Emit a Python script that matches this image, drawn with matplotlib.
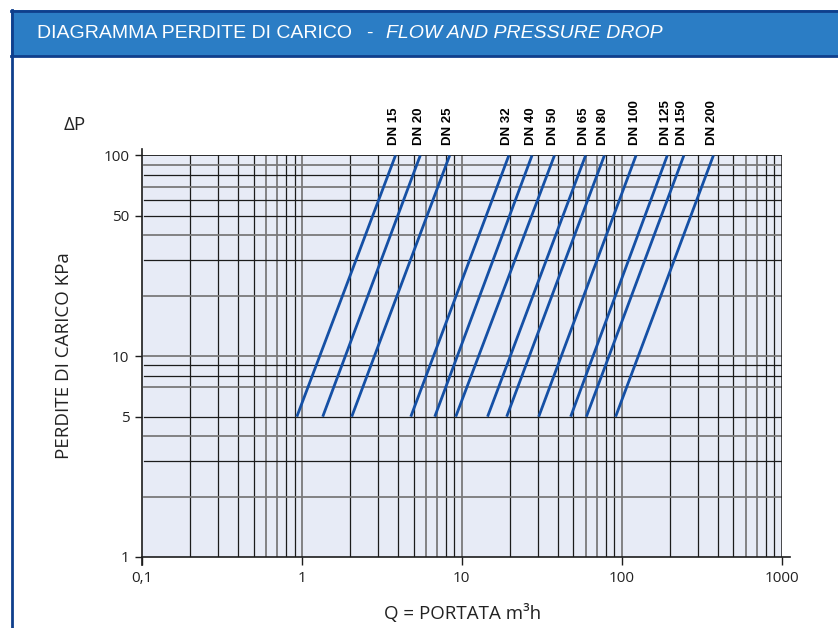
import matplotlib
matplotlib.use('Agg')
import matplotlib.pyplot as plt
from matplotlib.patches import Rectangle
from matplotlib.lines import Line2D
from matplotlib.ticker import NullLocator

# valve sizes and flow (m3/h) at dP = 5 kPa and dP = 100 kPa
dn_labels = ['DN 15', 'DN 20', 'DN 25', 'DN 32', 'DN 40', 'DN 50',
             'DN 65', 'DN 80', 'DN 100', 'DN 125', 'DN 150', 'DN 200']
q_low = [0.93, 1.35, 2.05, 4.80, 6.78, 9.17, 14.5, 19.1, 30.3, 48.0, 60.2, 91.7]
q_high = [3.85, 5.5, 8.4, 19.7, 27.5, 38.0, 59.5, 78.0, 123, 193, 245, 375]
dp_low = 5
dp_high = 100

x_ticks = [0.1, 1, 10, 100, 1000]
x_ticklabels = ['0,1', '1', '10', '100', '1000']
y_ticks = [1, 5, 10, 50, 100]
y_ticklabels = ['1', '5', '10', '50', '100']

# grid lines (dark / grey as in the printed chart)
x_grid_dark = [0.2, 0.3, 0.4, 0.5, 0.8, 0.9, 2, 3, 4, 5, 8, 9,
               20, 30, 40, 50, 80, 90, 200, 300, 400, 500, 800, 900]
x_grid_grey = [0.6, 0.7, 1, 6, 7, 10, 60, 70, 100, 600, 700]
y_grid_dark = [3, 5, 8, 9, 30, 50, 60, 80]
y_grid_grey = [2, 4, 7, 10, 20, 40, 70, 90]

W, H = 838, 628
fig = plt.figure(figsize=(W / 100, H / 100), dpi=100)

txt = '#222222'
navy = '#0f3f8c'
sans = ['Open Sans', 'DejaVu Sans']

# header bar
fig.patches.append(Rectangle((11 / W, 1 - 57 / H), (W - 11) / W, 47 / H,
                             transform=fig.transFigure, facecolor='#2b7dc5',
                             edgecolor='none', zorder=0))
for yy in (11, 56):
    fig.add_artist(Line2D([11 / W, 1], [1 - yy / H] * 2, color=navy, lw=2.0))
fig.add_artist(Line2D([12 / W] * 2, [0, 1 - 10 / H], color=navy, lw=2.0))

title_font = ['Liberation Sans', 'DejaVu Sans']
t1 = fig.text(37 / W, 1 - 33 / H, 'DIAGRAMMA PERDITE DI CARICO', color='white',
              fontsize=14, family=title_font, va='center', ha='left')
fig.canvas.draw()
x_end = t1.get_window_extent().x1
fig.text((x_end + 14) / W, 1 - 33 / H, '-', color='white',
         fontsize=14, family=title_font, va='center', ha='left')
fig.text((x_end + 34) / W, 1 - 33 / H, 'FLOW AND PRESSURE DROP', color='white',
         fontsize=14, family=title_font, style='italic', va='center', ha='left')

# plot area
ax = fig.add_axes([142 / W, 1 - 557 / H, (781.5 - 142) / W, (557 - 155.5) / H])
ax.set_facecolor('#e7ebf6')
ax.set_xscale('log')
ax.set_yscale('log')
ax.set_xlim(0.1, 1000)
ax.set_ylim(1, 100)
for s in ax.spines.values():
    s.set_visible(False)

for v in x_grid_dark:
    ax.axvline(v, color='#1c1c1c', lw=0.9, zorder=1)
for v in x_grid_grey:
    ax.axvline(v, color='#7a7a7a', lw=1.3, zorder=1)
for v in y_grid_dark:
    ax.axhline(v, xmin=0.003, color='#1c1c1c', lw=0.9, zorder=1)
for v in y_grid_grey:
    ax.axhline(v, xmin=0.003, color='#7a7a7a', lw=1.3, zorder=1)

# frame
ax.axhline(100, color='#1c1c1c', lw=1.3, zorder=2)
ax.axvline(1000, color='#1c1c1c', lw=1.1, zorder=2)
ax.plot([0.1, 0.1], [0.915, 108], color='#1c1c1c', lw=1.2, clip_on=False, zorder=3)
ax.plot([0.1, 1130], [1, 1], color='#1c1c1c', lw=1.2, clip_on=False, zorder=3)

ax.set_xticks(x_ticks, x_ticklabels)
ax.set_yticks(y_ticks, y_ticklabels)
ax.xaxis.set_minor_locator(NullLocator())
ax.yaxis.set_minor_locator(NullLocator())
ax.tick_params(axis='x', length=6, width=1, color='#1c1c1c', pad=4,
               labelsize=11, labelcolor=txt)
ax.tick_params(axis='y', length=5, width=1, color='#1c1c1c', pad=4,
               labelsize=11, labelcolor=txt)
for lab in ax.get_xticklabels() + ax.get_yticklabels():
    lab.set_family(sans)

# flow lines
for lbl, ql, qh in zip(dn_labels, q_low, q_high):
    ax.plot([ql, qh], [dp_low, dp_high], color='#1550a5', lw=2.0,
            solid_capstyle='butt', zorder=4)
    ax.annotate(lbl, xy=(qh, dp_high), xytext=(-1, 7.5), textcoords='offset points',
                rotation=90, ha='center', va='bottom', fontsize=9.5,
                fontweight='bold', family=['Liberation Sans', 'DejaVu Sans'],
                color='black', annotation_clip=False)

fig.text(75 / W, 1 - 125 / H, 'ΔP', ha='center', va='center', fontsize=13.5,
         family=sans, color=txt)
fig.text(64 / W, 1 - 356 / H, 'PERDITE DI CARICO KPa', rotation=90,
         ha='center', va='center', fontsize=13.5, family=sans, color=txt)
fig.text(463 / W, 1 - 613 / H, 'Q = PORTATA m³h', ha='center', va='center',
         fontsize=13.5, family=sans, color=txt)

fig.savefig('out.png', dpi=100)
